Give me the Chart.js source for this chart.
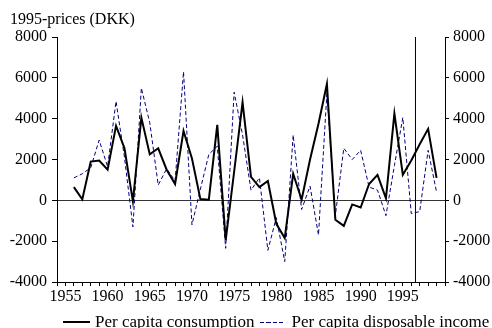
<!DOCTYPE html>
<html>
<head>
<meta charset="utf-8">
<script src="https://cdn.jsdelivr.net/npm/chart.js@4/dist/chart.umd.min.js"></script>
<style>
    html, body { margin: 0; padding: 0; background: #fff; }
    #wrap { position: relative; width: 492px; height: 328px; }
    #legend {
        position: absolute; left: 63px; top: 312px; height: 20px;
        display: flex; align-items: center;
        font-family: 'Liberation Serif', 'Times New Roman', serif; font-size: 17px; line-height: 20px; color: #000;
        white-space: nowrap;
    }
    #legend .item { display: flex; align-items: center; margin-right: 5px; }
    #legend .swatch { display: inline-block; width: 27px; margin-right: 5px; }
</style>
</head>
<body>
<div id="wrap">
    <canvas id="chart" width="492" height="328"></canvas>
    <div id="legend"></div>
</div>
<script>
// Data (DKK, 1995-prices, annual change per capita)
const years = [1956, 1957, 1958, 1959, 1960, 1961, 1962, 1963, 1964, 1965,
    1966, 1967, 1968, 1969, 1970, 1971, 1972, 1973, 1974, 1975,
    1976, 1977, 1978, 1979, 1980, 1981, 1982, 1983, 1984, 1985,
    1986, 1987, 1988, 1989, 1990, 1991, 1992, 1993, 1994, 1995,
    1996, 1997, 1998, 1999];
const consumption = [650, 50, 1900, 1950, 1500, 3650, 2550, -50, 4050, 2250,
    2550, 1500, 800, 3400, 2050, 60, 30, 3700, -1950, 1400,
    4800, 1150, 650, 950, -1150, -1850, 1300, 30, 2000, 3750,
    5700, -950, -1250, -200, -350, 800, 1250, 100, 4250, 1250,
    1950, 2750, 3500, 1100];
const income = [1100, 1300, 1600, 2950, 1650, 4850, 2100, -1300, 5500, 3800,
    750, 1550, 950, 6300, -1200, 550, 2250, 2650, -2350, 5300,
    3200, 500, 1100, -2450, -850, -3000, 3200, -450, 700, -1700,
    5250, -750, 2550, 2000, 2450, 650, 500, -750, 1700, 4050,
    -650, -550, 2450, 400];
const seriesNames = ['Per capita consumption', 'Per capita disposable income'];
const yearLabels = [1955, 1960, 1965, 1970, 1975, 1980, 1985, 1990, 1995];
const splitYear = 1996.5;

const serif = "'Liberation Serif', 'Times New Roman', serif";

function toPoints(values) {
    return values.map((v, i) => ({ x: years[i], y: v }));
}

const plainNumber = v => String(v);

const chart = new Chart(document.getElementById('chart'), {
    type: 'line',
    data: {
        datasets: [
            {
                label: seriesNames[0],
                data: toPoints(consumption),
                borderColor: '#000',
                borderWidth: 2,
                pointRadius: 0,
                tension: 0
            },
            {
                label: seriesNames[1],
                data: toPoints(income),
                borderColor: '#000080',
                borderWidth: 1,
                borderDash: [4, 2.5],
                pointRadius: 0,
                tension: 0
            },
            {
                label: 'split',
                data: [{ x: splitYear, y: -4000 }, { x: splitYear, y: 8000 }],
                borderColor: '#000',
                borderWidth: 1,
                pointRadius: 0
            }
        ]
    },
    options: {
        responsive: false,
        animation: false,
        devicePixelRatio: 1,
        layout: { padding: { left: 10, right: 0, top: 0, bottom: 0 } },
        plugins: {
            legend: { display: false },
            tooltip: { enabled: false },
            title: {
                display: true,
                text: '1995-prices (DKK)',
                align: 'start',
                color: '#000',
                font: { family: serif, size: 16, weight: 'normal' },
                padding: { top: 10, bottom: 7.8 }
            }
        },
        scales: {
            x: {
                type: 'linear',
                min: 1954,
                max: 2000,
                afterBuildTicks: scale => {
                    const t = [];
                    for (let v = scale.min; v <= scale.max; v++) t.push({ value: v });
                    scale.ticks = t;
                },
                afterFit: scale => { scale.height = 46; },
                ticks: {
                    autoSkip: false,
                    maxRotation: 0,
                    padding: 1,
                    color: '#000',
                    font: { family: serif, size: 16 },
                    callback: v => yearLabels.includes(v) ? String(v) : ''
                },
                grid: { drawOnChartArea: false, tickLength: 4, tickColor: '#000' },
                border: { color: '#000' }
            },
            y: {
                position: 'left',
                min: -4000,
                max: 8000,
                afterFit: scale => { scale.width = 47; },
                ticks: {
                    stepSize: 2000,
                    padding: 5,
                    color: '#000',
                    font: { family: serif, size: 16 },
                    callback: plainNumber
                },
                grid: {
                    tickLength: 5,
                    tickColor: '#000',
                    color: ctx => ctx.tick && ctx.tick.value === 0 ? '#333' : 'rgba(0,0,0,0)'
                },
                border: { color: '#000' }
            },
            y2: {
                position: 'right',
                min: -4000,
                max: 8000,
                afterFit: scale => { scale.width = 47; },
                ticks: {
                    stepSize: 2000,
                    padding: 4,
                    color: '#000',
                    font: { family: serif, size: 16 },
                    callback: plainNumber
                },
                grid: { drawOnChartArea: false, tickLength: 4, tickColor: '#000' },
                border: { color: '#000' }
            }
        }
    }
});

// HTML legend built from the two series
const legend = document.getElementById('legend');
chart.data.datasets.slice(0, 2).forEach((ds, i) => {
    const item = document.createElement('span');
    item.className = 'item';
    const sw = document.createElement('span');
    sw.className = 'swatch';
    if (ds.borderDash) {
        sw.style.height = '1px';
        sw.style.width = '26px';
        sw.style.marginRight = '6px';
        sw.style.background = `repeating-linear-gradient(to right, ${ds.borderColor} 0 4px, transparent 4px 6.5px)`;
    } else {
        sw.style.height = '2px';
        sw.style.background = ds.borderColor;
    }
    const txt = document.createElement('span');
    txt.textContent = ds.label;
    item.appendChild(sw);
    item.appendChild(txt);
    legend.appendChild(item);
});
</script>
</body>
</html>
